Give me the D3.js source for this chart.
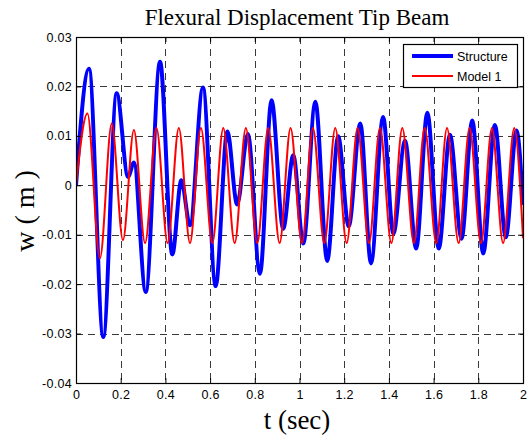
<!DOCTYPE html>
<html>
<head>
<meta charset="utf-8">
<script src="https://cdn.jsdelivr.net/npm/d3@7"></script>
<style>
  body { margin: 0; background: #fff; }
  text { fill: #000; }
</style>
</head>
<body>
<svg id="chart" width="527" height="435"></svg>
<script>
// ---- data ----
const xTicks = [0, 0.2, 0.4, 0.6, 0.8, 1, 1.2, 1.4, 1.6, 1.8, 2];
const xTickLabels = ["0", "0.2", "0.4", "0.6", "0.8", "1", "1.2", "1.4", "1.6", "1.8", "2"];
const yTicks = [-0.04, -0.03, -0.02, -0.01, 0, 0.01, 0.02, 0.03];
const yTickLabels = ["-0.04", "-0.03", "-0.02", "-0.01", "0", "0.01", "0.02", "0.03"];

// Structure response (turning points)
const structT = [0, 0.058, 0.122, 0.182, 0.233, 0.259, 0.312, 0.376, 0.431, 0.471,
  0.510, 0.568, 0.625, 0.677, 0.721, 0.769, 0.823, 0.875, 0.927, 0.972,
  1.017, 1.071, 1.124, 1.173, 1.220, 1.272, 1.320, 1.374, 1.420, 1.472,
  1.522, 1.572, 1.623, 1.673, 1.725, 1.773, 1.822, 1.874, 1.923, 1.971, 2.0];
const structW = [0, 0.0236, -0.0307, 0.0186, 0.0017, 0.0046, -0.0216, 0.0250, -0.0140, 0.0010,
  -0.0081, 0.0198, -0.0204, 0.0109, -0.0039, 0.0104, -0.0179, 0.0172, -0.0088, 0.0061,
  -0.0118, 0.0169, -0.0153, 0.0099, -0.0083, 0.0125, -0.0158, 0.0138, -0.0098, 0.0090,
  -0.0128, 0.0147, -0.0128, 0.0102, -0.0108, 0.0131, -0.0138, 0.0122, -0.0105, 0.0111, -0.0040];

// Model 1 response (turning points)
const modelT = [0, 0.051, 0.107, 0.160, 0.210, 0.259, 0.309, 0.360, 0.410, 0.460,
  0.510, 0.559, 0.610, 0.659, 0.710, 0.760, 0.811, 0.860, 0.911, 0.960,
  1.011, 1.060, 1.111, 1.160, 1.211, 1.260, 1.311, 1.360, 1.411, 1.460,
  1.512, 1.560, 1.612, 1.660, 1.712, 1.761, 1.812, 1.861, 1.911, 1.961, 2.0];
const modelW = [0, 0.0145, -0.0148, 0.0125, -0.0111, 0.0112, -0.0117, 0.0116, -0.0117, 0.0116,
  -0.0117, 0.0116, -0.0117, 0.0116, -0.0117, 0.0116, -0.0117, 0.0116, -0.0117, 0.0116,
  -0.0117, 0.0116, -0.0117, 0.0116, -0.0117, 0.0116, -0.0117, 0.0116, -0.0117, 0.0116,
  -0.0117, 0.0116, -0.0117, 0.0116, -0.0117, 0.0116, -0.0117, 0.0116, -0.0117, 0.0116, -0.0107];

const seriesNames = ["Structure", "Model 1"];
const seriesColors = ["#0000ff", "#ff0000"];

// ---- layout ----
const svg = d3.select("svg#chart");
const pLeft = 76, pRight = 523, pTop = 37, pBottom = 383;

const x = d3.scaleLinear().domain([0, 2]).range([pLeft, pRight]);
const y = d3.scaleLinear().domain([-0.04, 0.03]).range([pBottom, pTop]);

svg.append("defs").append("clipPath").attr("id", "plotclip")
  .append("rect")
  .attr("x", pLeft).attr("y", pTop)
  .attr("width", pRight - pLeft).attr("height", pBottom - pTop);

// grid (dashed)
const grid = svg.append("g").attr("class", "grid")
  .attr("stroke", "#222").attr("stroke-width", 0.9)
  .attr("stroke-dasharray", "7,5");

grid.selectAll("line.vx")
  .data(xTicks.slice(1, -1))
  .enter().append("line")
  .attr("class", "vx")
  .attr("x1", d => Math.round(x(d)) + 0.5).attr("x2", d => Math.round(x(d)) + 0.5)
  .attr("y1", pTop).attr("y2", pBottom);

grid.selectAll("line.hy")
  .data(yTicks.slice(1, -1))
  .enter().append("line")
  .attr("class", "hy")
  .attr("y1", d => Math.round(y(d)) + 0.5).attr("y2", d => Math.round(y(d)) + 0.5)
  .attr("x1", pLeft).attr("x2", pRight);

// lines
const line = d3.line()
  .x(d => x(d[0]))
  .y(d => y(d[1]))
  .curve(d3.curveMonotoneX);

const plot = svg.append("g").attr("clip-path", "url(#plotclip)");

plot.append("path")
  .datum(structT.map((t, i) => [t, structW[i]]))
  .attr("d", line)
  .attr("fill", "none")
  .attr("stroke", seriesColors[0])
  .attr("stroke-width", 4)
  .attr("stroke-linejoin", "round");

plot.append("path")
  .datum(modelT.map((t, i) => [t, modelW[i]]))
  .attr("d", line)
  .attr("fill", "none")
  .attr("stroke", seriesColors[1])
  .attr("stroke-width", 2)
  .attr("stroke-linejoin", "round");

// axes box
svg.append("rect")
  .attr("x", pLeft + 0.5).attr("y", pTop + 0.5)
  .attr("width", pRight - pLeft).attr("height", pBottom - pTop)
  .attr("fill", "none").attr("stroke", "#000").attr("stroke-width", 1.2);

const fmtX = (d, i) => xTickLabels[i];
const fmtY = (d, i) => yTickLabels[i];

const axB = svg.append("g")
  .attr("transform", `translate(0,${pBottom})`)
  .call(d3.axisBottom(x).tickValues(xTicks).tickFormat(fmtX).tickSize(-5).tickSizeOuter(0).tickPadding(7));
const axL = svg.append("g")
  .attr("transform", `translate(${pLeft},0)`)
  .call(d3.axisLeft(y).tickValues(yTicks).tickFormat(fmtY).tickSize(-5).tickSizeOuter(0).tickPadding(4));
const axT = svg.append("g")
  .attr("transform", `translate(0,${pTop})`)
  .call(d3.axisTop(x).tickValues(xTicks).tickFormat("").tickSize(-5).tickSizeOuter(0));
const axR = svg.append("g")
  .attr("transform", `translate(${pRight},0)`)
  .call(d3.axisRight(y).tickValues(yTicks).tickFormat("").tickSize(-5).tickSizeOuter(0));

[axB, axL, axT, axR].forEach(a => {
  a.select(".domain").remove();
  a.selectAll("line").attr("stroke", "#000");
  a.selectAll("text")
    .attr("font-family", "Liberation Sans, Arial, sans-serif")
    .attr("font-size", 12.5)
    .attr("letter-spacing", 0.3)
    .attr("fill", "#000");
});

// title & axis labels
svg.append("text")
  .attr("x", 297).attr("y", 25)
  .attr("text-anchor", "middle")
  .attr("font-family", "Liberation Serif, Times New Roman, serif")
  .attr("font-size", 23)
  .text("Flexural Displacement Tip Beam");

svg.append("text")
  .attr("x", 297).attr("y", 429)
  .attr("text-anchor", "middle")
  .attr("font-family", "Liberation Serif, Times New Roman, serif")
  .attr("font-size", 27)
  .text("t (sec)");

svg.append("text")
  .attr("transform", "translate(34,211) rotate(-90)")
  .attr("text-anchor", "middle")
  .attr("font-family", "Liberation Serif, Times New Roman, serif")
  .attr("font-size", 28)
  .text("w ( m )");

// legend
const legend = svg.append("g").attr("class", "legend");
legend.append("rect")
  .attr("x", 403.5).attr("y", 44.5)
  .attr("width", 114).attr("height", 43)
  .attr("fill", "#fff").attr("stroke", "#000").attr("stroke-width", 1.2);

const items = legend.selectAll("g.item")
  .data(seriesNames)
  .enter().append("g")
  .attr("class", "item")
  .attr("transform", (d, i) => `translate(0,${56 + i * 20})`);

items.append("line")
  .attr("x1", 412).attr("x2", 453)
  .attr("y1", 0).attr("y2", 0)
  .attr("stroke", (d, i) => seriesColors[i])
  .attr("stroke-width", (d, i) => i === 0 ? 4 : 2);

items.append("text")
  .attr("x", 457).attr("y", 4.5)
  .attr("font-family", "Liberation Sans, Arial, sans-serif")
  .attr("font-size", 12.5)
  .text(d => d);
</script>
</body>
</html>
